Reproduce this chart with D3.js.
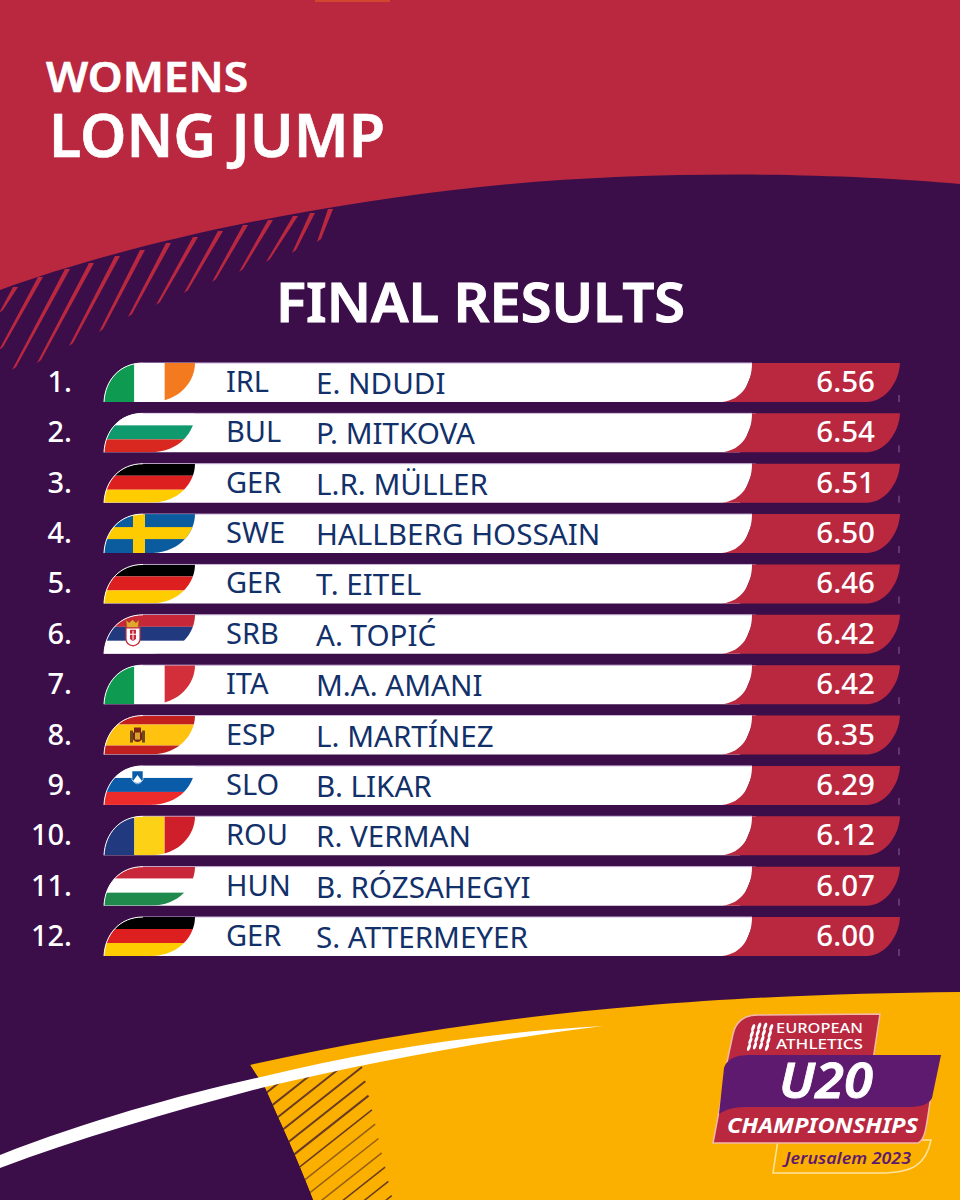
<!DOCTYPE html>
<html>
<head>
<meta charset="utf-8">
<title>Womens Long Jump - Final Results</title>
<script src="https://cdn.jsdelivr.net/npm/d3@7"></script>
<style>
html,body {margin:0;padding:0;background:#3b0e4a;}
svg {display:block;}
text {font-family:"Noto Sans",sans-serif;}
</style>
</head>
<body>
<svg id="chart" width="960" height="1200"></svg>
<script type="text/javascript" charset="utf-8">
var ranks = ["1.","2.","3.","4.","5.","6.","7.","8.","9.","10.","11.","12."]
var countries = ["IRL","BUL","GER","SWE","GER","SRB","ITA","ESP","SLO","ROU","HUN","GER"]
var athletes = ["E. NDUDI","P. MITKOVA","L.R. MÜLLER","HALLBERG HOSSAIN","T. EITEL","A. TOPIĆ","M.A. AMANI","L. MARTÍNEZ","B. LIKAR","R. VERMAN","B. RÓZSAHEGYI","S. ATTERMEYER"]
var marks = [6.56,6.54,6.51,6.50,6.46,6.42,6.42,6.35,6.29,6.12,6.07,6.00]

var purple = "#3b0e4a", red = "#b9283f", yellow = "#fbb000", navy = "#12306a"

var svg = d3.select("#chart")
svg.append("rect").attr("width",960).attr("height",1200).attr("fill",purple)

// top banner
svg.append("path").attr("fill",red)
  .attr("d","M0,0 L960,0 L960,184 C830,172 640,170 480,187 C300,206 120,246 0,290 Z")
svg.append("rect").attr("x",315).attr("width",75).attr("height",2).attr("fill","#d2452f")

// banner streaks, fat at the curve and thin at the tip
var streakTops = [[15,290],[40,280],[67,272],[91,266],[117,259],[142,253],[168,246],[195,240],[220,234],[245,228],[270,223],[295,219],[312,216],[330,212]]
var streakEnds = [[0,313],[0,350],[13,370],[38,363],[70,346],[100,332],[129,317],[157,305],[185,293],[213,282],[240,272],[267,262],[293,253],[318,242]]
svg.append("g").attr("fill",red).selectAll("path")
  .data(d3.range(streakTops.length))
  .enter()
  .append("path")
  .attr("d",function(i) {
    var t = streakTops[i], e = streakEnds[i]
    return "M"+(t[0]-2)+","+(t[1]-3)+" L"+(t[0]+3)+","+(t[1]-3)+" L"+(e[0]+3)+","+(e[1]-3)+" L"+(e[0]-1)+","+e[1]+" Z"
  })

// bottom yellow shape
svg.append("path").attr("fill",yellow)
  .attr("d","M250,1065 C380,1035 520,1016 640,1006 C760,996 860,993 960,992 L960,1200 L313,1200 C297,1158 280,1122 265,1088 Z")

// hatch on the yellow shape, the first ones run under the swoosh
var hatch = svg.append("g").attr("stroke","#6a3a25").attr("fill","none")
var hatchEnds = [[280,1082],[313,1073],[340,1068]]
d3.range(10).forEach(function(i) {hatchEnds.push([362+i*3.3,1067+i*14.3])})
hatchEnds.forEach(function(p,i) {
  hatch.append("line").attr("x1",p[0]).attr("y1",p[1]).attr("x2",p[0]-105).attr("y2",p[1]+83)
    .attr("stroke-width",i < 6 ? 2 : 1.5)
    .attr("stroke-opacity",i > 6 && i < 10 ? 0.7 : 1)
})
svg.append("path").attr("fill",purple)
  .attr("d","M250,1065 L265,1088 C280,1122 297,1158 313,1200 L150,1200 L150,1065 Z")

// white swoosh
svg.append("path").attr("fill","#fff")
  .attr("d","M0,1155 C90,1120 180,1095 261,1077 C370,1050 490,1032 603,1026 C490,1040 370,1062 261,1088 C170,1112 80,1138 0,1168 Z")

// titles
svg.append("text").attr("x",46).attr("y",92).attr("fill","#fff").attr("stroke","#fff").attr("stroke-width",0.6)
  .attr("font-size",42).attr("font-weight",600).attr("textLength",202).attr("lengthAdjust","spacingAndGlyphs").text("WOMENS")
svg.append("text").attr("x",49).attr("y",157).attr("fill","#fff").attr("stroke","#fff").attr("stroke-width",0.6)
  .attr("font-size",59).attr("font-weight",600).attr("textLength",336).attr("lengthAdjust","spacingAndGlyphs").text("LONG JUMP")
svg.append("text").attr("x",276).attr("y",322).attr("fill","#fff").attr("stroke","#fff").attr("stroke-width",1)
  .attr("font-size",55).attr("font-weight",600).attr("textLength",409).attr("lengthAdjust","spacingAndGlyphs").text("FINAL RESULTS")

// table rows
var y = d3.scaleBand().domain(d3.range(ranks.length)).range([363,956]).paddingInner(0.226)
var h = y.bandwidth()

var flagShape = "M104,39 C105,17 120,0 143,0 L195,0 C195,18 180,39 150,39 Z"
var flagColors = {
  IRL:["#0f9a52","#ffffff","#f47a20"],
  BUL:["#ffffff","#0f9a6e","#d8281f"],
  GER:["#000000","#dd1f1f","#ffcc00"],
  SRB:["#c6283a","#20397f","#ffffff"],
  ITA:["#0f9a52","#ffffff","#d22f3a"],
  ESP:["#c1201f","#ffc20e","#c1201f"],
  SLO:["#ffffff","#0a5ca8","#ee2b2b"],
  ROU:["#20397f","#fcd116","#ce1f2b"],
  HUN:["#c8283a","#ffffff","#1f8a4b"]
}
var verticalFlags = ["IRL","ITA","ROU"]

var defs = svg.append("defs")
defs.append("clipPath").attr("id","flag-clip").append("path").attr("d",flagShape)

var row = svg.selectAll("g.row")
    .data(d3.range(ranks.length))
    .enter()
  .append("g")
    .attr("class","row")
    .attr("transform",function(i) {return "translate(0,"+y(i)+")"})

// white bar
row.append("path").attr("fill","#fff")
  .attr("d","M104,39 C105,17 120,0 143,0 L756,0 L740,39 Z")
row.append("line").attr("x1",143).attr("x2",752).attr("y1",0).attr("y2",0).attr("stroke","#cdb8dc").attr("stroke-width",1)
// red end
row.append("path").attr("fill",red)
  .attr("d","M752,0 C752,20 742,37 722,39 L868,39 C885,38 899,20 900,0 Z")
row.append("line").attr("x1",899).attr("x2",899).attr("y1",32).attr("y2",39).attr("stroke","#cdb8dc").attr("stroke-width",0.5)

// flags
var flag = row.append("g").attr("clip-path","url(#flag-clip)")
flag.each(function(i) {
  var code = countries[i], g = d3.select(this)
  if (code === "SWE") {
    g.append("rect").attr("x",100).attr("width",100).attr("height",h).attr("fill","#0a5c9e")
    g.append("rect").attr("x",100).attr("y",13).attr("width",100).attr("height",12).attr("fill","#fecb00")
    g.append("rect").attr("x",133).attr("width",12).attr("height",h).attr("fill","#fecb00")
    return
  }
  var colors = flagColors[code]
  if (verticalFlags.indexOf(code) >= 0) {
    var fx = d3.scaleBand().domain([0,1,2]).range([104,195])
    colors.forEach(function(c,k) {
      g.append("rect").attr("x",fx(k)).attr("width",fx.bandwidth()).attr("height",h).attr("fill",c)
    })
  } else {
    var fy = code === "ESP" ? [0,9,30,39] : [0,12,26,39]
    colors.forEach(function(c,k) {
      g.append("rect").attr("x",100).attr("y",fy[k]).attr("width",100).attr("height",fy[k+1]-fy[k]).attr("fill",c)
    })
  }
  if (code === "SRB") {
    g.append("path").attr("d","M126,5 l3,3 l3.5,-3 l3.5,3 l3,-3 l-1,8 h-11 Z").attr("fill","#e0a92e").attr("stroke","#a5571f").attr("stroke-width",0.5)
    g.append("path").attr("d","M126,13 h14 v11 q0,6 -7,7 q-7,-1 -7,-7 Z").attr("fill","#fff").attr("stroke","#c6283a").attr("stroke-width",1.2)
    g.append("path").attr("d","M130,15 h6 v9 q-3,4 -6,0 Z").attr("fill","#c6283a")
    g.append("path").attr("d","M132.5,16 h1 v9 h-1 Z M130,19 h6 v1 h-6 Z").attr("fill","#fff")
  }
  if (code === "ESP") {
    g.append("rect").attr("x",130).attr("y",15).attr("width",3).attr("height",12).attr("fill","#6e4a1a")
    g.append("rect").attr("x",142).attr("y",15).attr("width",3).attr("height",12).attr("fill","#6e4a1a")
    g.append("path").attr("d","M134,12 h7 v5 h1 v7 q-4.5,5 -9,0 v-7 h1 Z").attr("fill","#7d2418")
    g.append("rect").attr("x",135).attr("y",17).attr("width",5).attr("height",7).attr("fill","#d7a32c")
  }
  if (code === "SLO") {
    g.append("path").attr("d","M132,5 h11 v9 q-5.5,8 -11,0 Z").attr("fill","#0a5ca8").attr("stroke","#fff").attr("stroke-width",0.6)
    g.append("path").attr("d","M133,15 l4.5,-6 l4.5,6 q-4.5,4 -9,0 Z").attr("fill","#fff")
  }
})

// thin white outline on the flag's left side
row.append("path").attr("fill","none").attr("stroke","#fff").attr("stroke-width",1)
  .attr("d","M104,39 C105,17 120,0 143,0")

row.append("text").attr("x",72).attr("y",29).attr("text-anchor","end").attr("fill","#fff")
  .attr("font-size",29).attr("font-weight",500).text(function(i) {return ranks[i]})
row.append("text").attr("x",226).attr("y",29).attr("fill",navy)
  .attr("font-size",29).text(function(i) {return countries[i]})
row.append("text").attr("x",316).attr("y",31).attr("fill",navy)
  .attr("font-size",29.6).text(function(i) {return athletes[i]})
row.append("text").attr("x",875).attr("y",29).attr("text-anchor","end").attr("fill","#fff")
  .attr("font-size",29.5).attr("font-weight",500).text(function(i) {return d3.format(".2f")(marks[i])})

// event logo
var logo = svg.append("g")
logo.append("path").attr("fill",yellow).attr("stroke","#fde3a0").attr("stroke-width",1.5)
  .attr("d","M778,1140 L773,1173 L880,1173 C912,1173 926,1165 931,1140 Z")
logo.append("path").attr("fill",red).attr("stroke","#f2b9a8").attr("stroke-width",1.5)
  .attr("d","M727,1062 L733,1034 C736,1021 745,1015 758,1015 L880,1014 L873,1060 Z")
logo.append("path").attr("fill",red).attr("stroke","#f2b9a8").attr("stroke-width",1.5)
  .attr("d","M722,1095 L713,1143 L918,1143 C925,1140 926,1130 931,1095 Z")
logo.append("path").attr("fill","#5e1a6e")
  .attr("d","M724,1068 C727,1059 735,1055 750,1055 L941,1055 L932,1098 C928,1106 918,1107 905,1107 L745,1107 C733,1107 725,1110 719,1114 Z")
logo.append("text").attr("x",776).attr("y",1033).attr("fill","#fff").attr("font-family","Roboto").attr("font-size",13.8).attr("font-weight",500).attr("textLength",87).attr("lengthAdjust","spacingAndGlyphs").text("EUROPEAN")
logo.append("text").attr("x",776).attr("y",1049).attr("fill","#fff").attr("font-family","Roboto").attr("font-size",13.8).attr("font-weight",500).attr("textLength",87).attr("lengthAdjust","spacingAndGlyphs").text("ATHLETICS")
// emblem: slanted columns of small leaves
var leaves = logo.append("g").attr("fill","#fff")
d3.range(4).forEach(function(col) {
  d3.range(4).forEach(function(k) {
    leaves.append("ellipse").attr("rx",1.6).attr("ry",3.8)
      .attr("transform","translate("+(749+col*6+k*1.4)+","+(1045-k*6.5+Math.abs(col-1.5)*1.5)+") rotate(20)")
  })
})
logo.append("text").attr("x",779).attr("y",1098).attr("fill","#fff").attr("stroke","#fff").attr("stroke-width",0.8).attr("font-size",49).attr("font-weight",600).attr("font-style","italic").attr("textLength",94).attr("lengthAdjust","spacingAndGlyphs").text("U20")
logo.append("text").attr("x",727).attr("y",1133).attr("fill","#fff").attr("font-size",21).attr("font-weight",700).attr("font-style","italic").attr("textLength",191).attr("lengthAdjust","spacingAndGlyphs").text("CHAMPIONSHIPS")
logo.append("text").attr("x",785).attr("y",1164).attr("fill","#5e1a6e").attr("font-size",15.5).attr("font-weight",600).attr("font-style","italic").attr("textLength",126).attr("lengthAdjust","spacingAndGlyphs").text("Jerusalem 2023")
</script>
</body>
</html>
